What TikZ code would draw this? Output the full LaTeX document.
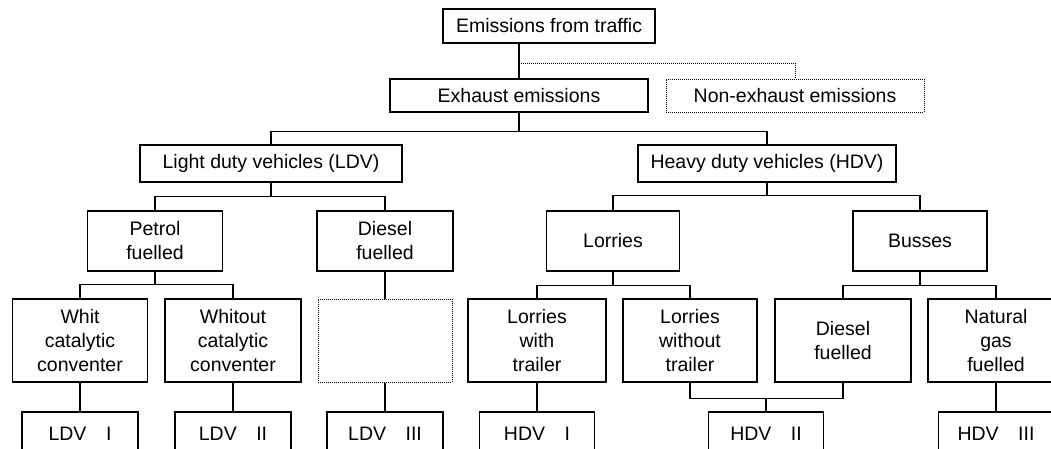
\documentclass[tikz,border=0pt]{standalone}
\usepackage{fontspec}
\setmainfont{Liberation Sans}
\begin{document}
\begin{tikzpicture}[x=1pt,y=-1pt,line width=1.4pt,font=\fontsize{19.5}{24}\selectfont,
		bx/.style={draw,inner sep=0pt,align=center},
		dbx/.style={bx,line width=1pt,dash pattern=on 1pt off 1pt},
		dln/.style={line width=1pt,dash pattern=on 1pt off 1pt}]
	\useasboundingbox (0,0) rectangle (1051,448);
	\node[bx,minimum width=212,minimum height=34] (top) at (549,26) {Emissions from traffic};
	\node[bx,minimum width=258,minimum height=33] (exh) at (519,95.5) {Exhaust emissions};
	\node[dbx,minimum width=258,minimum height=33] (nonexh) at (795,95.5) {Non-exhaust emissions};
	\node[bx,minimum width=262,minimum height=37] (ldv) at (271,163.5) {Light duty vehicles (LDV)};
	\node[bx,minimum width=258,minimum height=37] (hdv) at (767,163.5) {Heavy duty vehicles (HDV)};
	\node[bx,minimum width=135,minimum height=60] (petrol) at (155,241) {Petrol\\fuelled};
	\node[bx,minimum width=136,minimum height=60] (diesel) at (385,241) {Diesel\\fuelled};
	\node[bx,minimum width=133,minimum height=60] (lorries) at (613,241) {Lorries};
	\node[bx,minimum width=134,minimum height=60] (busses) at (920,241) {Busses};
	\node[bx,minimum width=135,minimum height=83] (whit) at (80,340.5) {Whit\\catalytic\\conventer};
	\node[bx,minimum width=136,minimum height=83] (whitout) at (233,340.5) {Whitout\\catalytic\\conventer};
	\node[dbx,minimum width=134,minimum height=83] (ldvx) at (385,340.5) {};
	\node[bx,minimum width=138,minimum height=83] (lwt) at (537,340.5) {Lorries\\with\\trailer};
	\node[bx,minimum width=134,minimum height=83] (lwo) at (690,340.5) {Lorries\\without\\trailer};
	\node[bx,minimum width=136,minimum height=83] (bdies) at (843,340.5) {Diesel\\fuelled};
	\node[bx,minimum width=136,minimum height=83] (bgas) at (996,340.5) {Natural\\gas\\fuelled};
	\foreach \n/\x/\t in {ldvi/80/I,ldvii/233/II,ldviii/385/III}
		\node[bx,minimum width=116,minimum height=44] (\n) at (\x,434) {LDV\quad\t};
	\foreach \n/\x/\t in {hdvi/537/I,hdvii/766/II,hdviii/996/III}
		\node[bx,minimum width=115,minimum height=44] (\n) at (\x,434) {HDV\quad\t};
	\draw (exh.north) -- ++(0,-15) coordinate (dj) -- (exh.north |- top.south);
	\draw[dln] (dj) -| (nonexh.north);
	\draw (exh.south) -- ++(0,19) coordinate (b1) (ldv.north) |- (b1) -| (hdv.north);
	\draw (ldv.south) -- ++(0,14) coordinate (b2) (petrol.north) |- (b2) -| (diesel.north);
	\draw (hdv.south) -- ++(0,13) coordinate (b3) (lorries.north) |- (b3) -| (busses.north);
	\draw (petrol.south) -- ++(0,13) coordinate (b4) (whit.north) |- (b4) -| (whitout.north);
	\draw (lorries.south) -- ++(0,14) coordinate (b5) (lwt.north) |- (b5) -| (lwo.north);
	\draw (busses.south) -- ++(0,14) coordinate (b6) (bdies.north) |- (b6) -| (bgas.north);
	\draw (diesel) -- (ldvx) (ldvx) -- (ldviii);
	\draw (whit) -- (ldvi) (whitout) -- (ldvii) (lwt) -- (hdvi) (bgas) -- (hdviii);
	\draw (lwo.south) -- ++(0,16) coordinate (b7) -| (bdies.south) (hdvii.north) -- (hdvii.north |- b7);
\end{tikzpicture}
\end{document}
